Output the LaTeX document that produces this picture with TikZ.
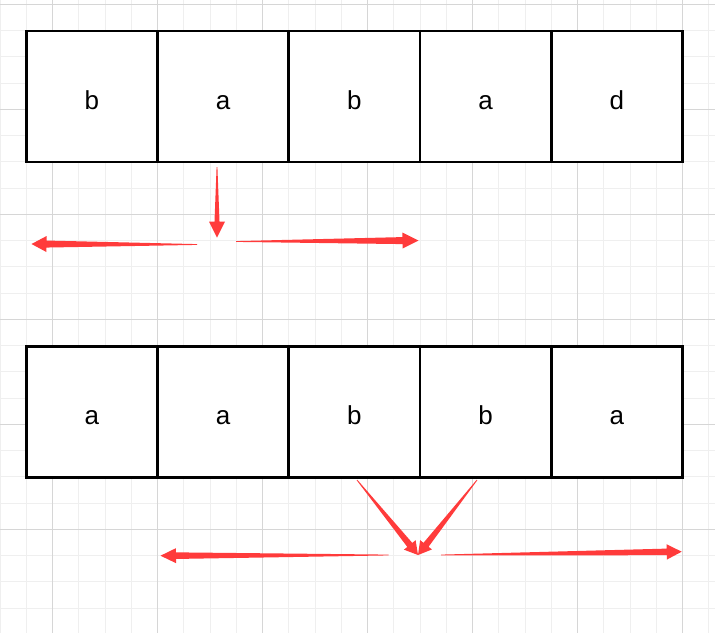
\documentclass[tikz,border=0pt]{standalone}
\usepackage{fontspec}
\setmainfont{Liberation Sans}
\usetikzlibrary{calc}
\definecolor{arrowred}{HTML}{FF3B3B}
\definecolor{gridminor}{HTML}{EFEFEF}
\definecolor{gridmajor}{HTML}{D6D6D6}
% tapered hand-drawn arrow: tail, tip, tail half-width, shaft half-width, head half-width, head length
\newcommand\taparrow[6]{%
  \coordinate (hb) at ($(#2)!#6!(#1)$);
  \fill[arrowred] ($(#1)!#3!90:(#2)$) -- ($(hb)!#4!90:(#2)$) -- ($(hb)!#5!90:(#2)$)
    -- (#2) -- ($(hb)!#5!-90:(#2)$) -- ($(hb)!#4!-90:(#2)$) -- ($(#1)!#3!-90:(#2)$) -- cycle;
}
\tikzset{
  cell/.style={draw=black, fill=white, line width=2.6pt, minimum size=131.25pt,
    inner sep=0pt, outer sep=0pt, font=\fontsize{26}{30}\selectfont,
    text height=25.6pt, text depth=0pt},
  minorline/.style={draw=gridminor, line width=1pt},
  majorline/.style={draw=gridmajor, line width=1pt}
}
\begin{document}
\begin{tikzpicture}[x=1pt,y=-1pt]
\fill[white] (0,0) rectangle (715,633);
\useasboundingbox (0,0) rectangle (715,633);
% grid
\foreach \k in {0,...,27} \draw[minorline] (26.25*\k,0) -- (26.25*\k,633);
\foreach \k in {0,...,23} \draw[minorline] (0,4.3+26.25*\k) -- (715,4.3+26.25*\k);
\foreach \k in {0,...,6} \draw[majorline] (52.5+105*\k,0) -- (52.5+105*\k,633);
\foreach \k in {0,...,6} \draw[majorline] (0,4.3+105*\k) -- (715,4.3+105*\k);
% top row
\node[cell] (t1) at (91.875,96.5) {b};
\node[cell] (t2) at (223.125,96.5) {a};
\node[cell] (t3) at (354.375,96.5) {b};
\node[cell] (t4) at (485.625,96.5) {a};
\node[cell] (t5) at (616.875,96.5) {d};
% bottom row
\node[cell] (b1) at (91.875,412) {a};
\node[cell] (b2) at (223.125,412) {a};
\node[cell] (b3) at (354.375,412) {b};
\node[cell] (b4) at (485.625,412) {b};
\node[cell] (b5) at (616.875,412) {a};
% arrow end points
\coordinate (dtail) at (217,167);
\coordinate (dtip) at (217,237.5);
\coordinate (ltail) at (197,244.5);
\coordinate (ltip) at (31.5,244);
\coordinate (rtail) at (236,241.5);
\coordinate (rtip) at (418.5,240.5);
\coordinate (vltail) at (357,480);
\coordinate (vrtail) at (477,480);
\coordinate (vtip) at (418,555);
\coordinate (bltail) at (388.5,555);
\coordinate (bltip) at (160.5,555.7);
\coordinate (brtail) at (441,555);
\coordinate (brtip) at (681.7,551.7);
% arrows
\taparrow{dtail}{dtip}{0.4pt}{2.5pt}{8pt}{16pt}
\taparrow{ltail}{ltip}{0.4pt}{3.5pt}{8pt}{15pt}
\taparrow{rtail}{rtip}{0.4pt}{3.5pt}{8pt}{16pt}
\taparrow{vltail}{vtip}{0.4pt}{3.2pt}{7.5pt}{13pt}
\taparrow{vrtail}{vtip}{0.4pt}{3.2pt}{7.5pt}{13pt}
\taparrow{bltail}{bltip}{0.4pt}{3.3pt}{7.5pt}{15.5pt}
\taparrow{brtail}{brtip}{0.4pt}{3.3pt}{7.7pt}{15pt}
\end{tikzpicture}
\end{document}
